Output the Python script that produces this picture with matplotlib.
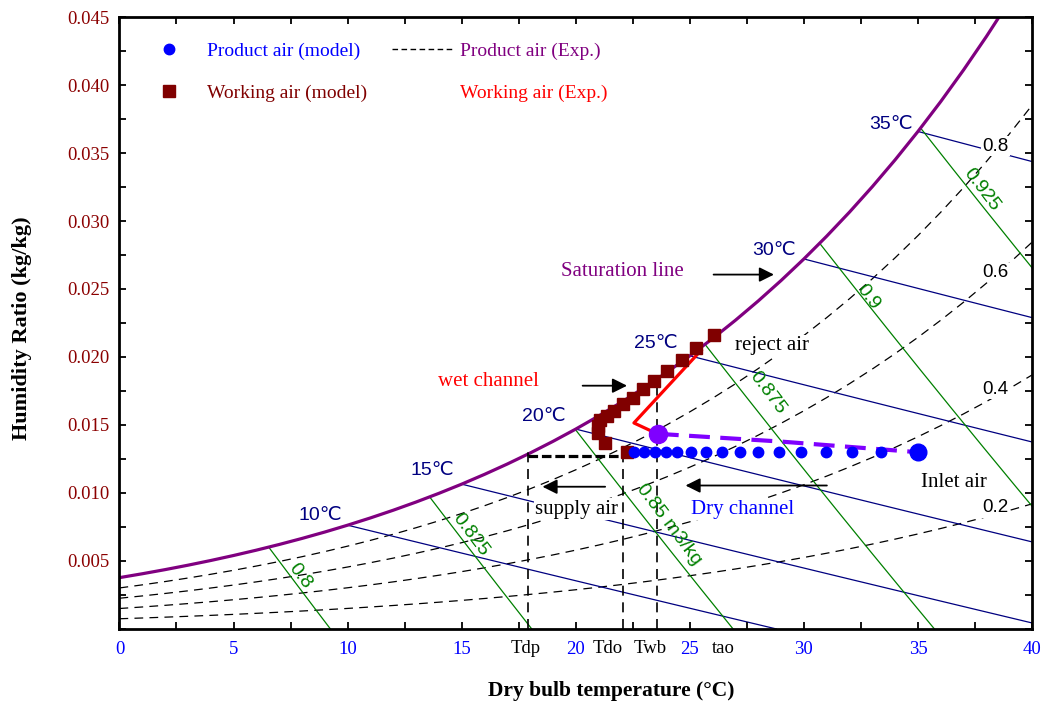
import numpy as np
import matplotlib
matplotlib.use('Agg')
import matplotlib.pyplot as plt
from matplotlib.lines import Line2D
from matplotlib.ticker import MultipleLocator

plt.rcParams['font.family'] = ['Liberation Serif', 'DejaVu Serif']
SANS = ['Liberation Sans', 'DejaVu Sans']

P_ATM = 101.325  # kPa

# saturation pressure of water (kPa) at 0..40 degC, from steam tables
sat_temp = [0, 1, 2, 3, 4, 5, 6, 7, 8, 9, 10, 11, 12, 13, 14, 15, 16, 17, 18, 19, 20,
            21, 22, 23, 24, 25, 26, 27, 28, 29, 30, 31, 32, 33, 34, 35, 36, 37, 38, 39, 40]
sat_press = [0.6113, 0.6571, 0.7060, 0.7581, 0.8136, 0.8726, 0.9354, 1.0021, 1.0730, 1.1482,
             1.2282, 1.3130, 1.4028, 1.4981, 1.5990, 1.7057, 1.8188, 1.9383, 2.0647, 2.1982,
             2.3392, 2.4881, 2.6452, 2.8109, 2.9856, 3.1697, 3.3637, 3.5679, 3.7828, 4.0089,
             4.2467, 4.4966, 4.7592, 5.0351, 5.3247, 5.6286, 5.9475, 6.2818, 6.6324, 6.9997,
             7.3844]

rh_levels = [0.2, 0.4, 0.6, 0.8]
rh_label_pos = [(38.4, 0.00890), (38.4, 0.01763), (38.4, 0.02620), (38.4, 0.03551)]

wb_temps = [10, 15, 20, 25, 30, 35]
wb_label_pos = [(8.8, 0.00838), (13.7, 0.01164), (18.6, 0.01566),
                (23.5, 0.02096), (28.7, 0.02780), (33.8, 0.03713)]

vol_levels = [0.8, 0.825, 0.85, 0.875, 0.9, 0.925]
vol_labels = ['0.8', '0.825', '0.85 m3/kg', '0.875', '0.9', '0.925']
vol_label_pos = [(7.9, 0.0039), (15.4, 0.0069), (24.1, 0.0077),
                 (28.4, 0.0174), (32.8, 0.0244), (37.8, 0.0323)]

# Product air (model)
prod_model_t = [22.55, 22.98, 23.47, 23.95, 24.45, 25.04, 25.70, 26.42, 27.19,
                27.99, 28.90, 29.89, 30.96, 32.13, 33.40]
prod_model_w = [0.0130] * 15
inlet_t = [35.0]
inlet_w = [0.0130]

# Product air (Exp.)
prod_exp_t = [23.6, 29.0, 35.0]
prod_exp_w = [0.01435, 0.01378, 0.0130]

# Working air (model)
work_model_t = [22.23, 21.28, 20.98, 20.97, 21.06, 21.36, 21.69, 22.08, 22.49,
                22.93, 23.44, 24.01, 24.64, 25.29, 26.05]
work_model_w = [0.01304, 0.01370, 0.01439, 0.01493, 0.01537, 0.01566, 0.01603, 0.01652,
                0.01701, 0.01763, 0.01826, 0.01899, 0.01978, 0.02068, 0.02164]

# Working air (Exp.)
work_exp_t = [23.45, 22.55, 25.5]
work_exp_w = [0.01445, 0.01515, 0.0205]

# supply air construction (dew point / outlet / wet bulb)
t_dp, t_do, t_wb = 17.9, 22.08, 23.54
w_supply = 0.01275
xtick_extra = ['Tdp', 'Tdo', 'Twb', 'tao']
xtick_extra_t = [17.8, 21.38, 23.28, 26.49]


def hum_ratio(pv):
    return 0.622 * pv / (P_ATM - pv)


t_sat = np.array(sat_temp, dtype=float)
p_sat = np.array(sat_press)
w_sat = hum_ratio(p_sat)

fig = plt.figure(figsize=(10.47, 7.06), dpi=100)
ax = fig.add_axes([0.1141, 0.1091, 0.8716, 0.8668])
ax.set_xlim(0, 40)
ax.set_ylim(0, 0.045)

# relative humidity curves
for rh, (lx, ly) in zip(rh_levels, rh_label_pos):
    ax.plot(t_sat, hum_ratio(rh * p_sat), color='black', lw=0.9,
            ls=(0, (7, 5)), zorder=1)
    ax.text(lx, ly, f'{rh:.1f}', family=SANS, fontsize=13.5, ha='center', va='center',
            bbox=dict(facecolor='white', edgecolor='none', pad=1), zorder=3)

# wet bulb lines
for twb, (lx, ly) in zip(wb_temps, wb_label_pos):
    ws = w_sat[sat_temp.index(twb)]
    t_zero = twb + (2501 - 2.326 * twb) * ws / 1.006
    t = np.linspace(twb, min(40.0, t_zero), 40)
    w = ((2501 - 2.326 * twb) * ws - 1.006 * (t - twb)) / (2501 + 1.86 * t - 4.186 * twb)
    ax.plot(t, w, color='#000080', lw=0.9, zorder=1)
    ax.text(lx, ly, f'{twb}\u2103', family=SANS, fontsize=14, color='#000080',
            ha='center', va='center', zorder=3)

# specific volume lines
w_grid = np.linspace(0, 0.045, 901)
for v, lab, (lx, ly) in zip(vol_levels, vol_labels, vol_label_pos):
    t = v * P_ATM / (0.287042 * (1 + 1.607858 * w_grid)) - 273.15
    keep = w_grid <= np.interp(t, t_sat, w_sat)
    ax.plot(t[keep], w_grid[keep], color='#008000', lw=0.9, zorder=1)
    ax.text(lx, ly, lab, family=SANS, fontsize=14, color='#008000', rotation=-53,
            ha='center', va='center', rotation_mode='anchor', zorder=3)

# saturation line
ax.plot(t_sat, w_sat, color='#800080', lw=2.3, zorder=2)

# supply air construction lines
ax.plot([t_dp, t_do], [w_supply, w_supply], color='black', lw=2.3, ls=(0, (3, 1.2)), zorder=2)
ax.plot([t_dp, t_dp], [0, w_supply + 0.0003], color='black', lw=1.2, ls=(0, (6, 4)), zorder=2)
ax.plot([t_do, t_do], [0, w_supply + 0.0002], color='black', lw=1.2, ls=(0, (6, 4)), zorder=2)
ax.plot([t_wb, t_wb], [0, w_sat[23] + (w_sat[24] - w_sat[23]) * 0.54], color='black',
        lw=1.2, ls=(0, (6, 4)), zorder=2)

# data
ax.plot(prod_exp_t, prod_exp_w, color='#7F00FF', lw=3, ls=(0, (5, 2.5)), zorder=4)
ax.plot(prod_exp_t[:1], prod_exp_w[:1], 'o', color='#7F00FF', ms=13, zorder=5)
ax.plot(work_exp_t, work_exp_w, color='#FF0000', lw=2.3, zorder=4)
ax.plot(work_model_t, work_model_w, 's', color='#800000', ms=8.5, zorder=5)
ax.plot(prod_model_t, prod_model_w, 'o', color='#0000FF', ms=7.5, zorder=5)
ax.plot(inlet_t, inlet_w, 'o', color='#0000FF', ms=12, zorder=5)

# annotations
white = dict(facecolor='white', edgecolor='none', pad=1)
ax.text(22.05, 0.02627, 'Saturation line', color='#800080', fontsize=15,
        ha='center', va='center')
ax.text(28.6, 0.02083, 'reject air', color='black', fontsize=15,
        ha='center', va='center', bbox=white)
ax.text(16.16, 0.01818, 'wet channel', color='#FF0000', fontsize=15,
        ha='center', va='center')
ax.text(27.3, 0.0088, 'Dry channel', color='#0000FF', fontsize=15,
        ha='center', va='center', bbox=white)
ax.text(20.04, 0.0088, 'supply air', color='black', fontsize=15,
        ha='center', va='center', bbox=white)
ax.text(36.57, 0.01076, 'Inlet air', color='black', fontsize=15,
        ha='center', va='center')

arrow = dict(arrowstyle='-|>', color='black', lw=1.3, mutation_scale=22)
ax.annotate('', xy=(28.81, 0.02606), xytext=(25.92, 0.02606), arrowprops=arrow)
ax.annotate('', xy=(22.37, 0.01789), xytext=(20.18, 0.01789), arrowprops=arrow)
ax.annotate('', xy=(24.69, 0.01055), xytext=(31.13, 0.01055), arrowprops=arrow)
ax.annotate('', xy=(18.42, 0.01046), xytext=(21.41, 0.01046), arrowprops=arrow)

# legend
handles = [Line2D([], [], ls='none', marker='o', color='#0000FF', ms=7.5),
           Line2D([], [], ls='none', marker='s', color='#800000', ms=8.5),
           Line2D([], [], color='black', lw=1, ls=(0, (4, 2.5))),
           Line2D([], [], color='none')]
labels = ['Product air (model)', 'Working air (model)', 'Product air (Exp.)', 'Working air (Exp.)']
leg = ax.legend(handles, labels, ncol=2, frameon=False, loc='upper left',
                bbox_to_anchor=(0.021, 0.959), fontsize=14, handlelength=3.15,
                handletextpad=0.35, columnspacing=1.3, labelspacing=1.25,
                borderpad=0, borderaxespad=0)
for txt, c in zip(leg.get_texts(), ['#0000FF', '#800000', '#800080', '#FF0000']):
    txt.set_color(c)

# axes styling
ax.xaxis.set_major_locator(MultipleLocator(5))
ax.xaxis.set_minor_locator(MultipleLocator(2.5))
ax.set_yticks([0.005, 0.010, 0.015, 0.020, 0.025, 0.030, 0.035, 0.040, 0.045])
ax.yaxis.set_minor_locator(MultipleLocator(0.0025))
ax.yaxis.set_major_formatter(plt.FormatStrFormatter('%.3f'))
ax.tick_params(which='both', direction='in', top=True, right=True, length=5, width=1.3)
ax.tick_params(axis='x', labelsize=13.5, labelcolor='#0000FF', pad=9)
ax.tick_params(axis='y', labelsize=13.5, labelcolor='#8B0000', pad=7)
for sp in ax.spines.values():
    sp.set_linewidth(2)

for lab, t in zip(xtick_extra, xtick_extra_t):
    ax.text(t, -0.032, lab, transform=ax.get_xaxis_transform(), fontsize=13.5,
            ha='center', va='center')

ax.text(0.5386, -0.101, 'Dry bulb temperature (\u00b0C)', transform=ax.transAxes,
        fontsize=15.5, fontweight='bold', ha='center', va='center')
ax.text(-0.107, 0.492, 'Humidity Ratio (kg/kg)', transform=ax.transAxes,
        fontsize=16, fontweight='bold', ha='center', va='center', rotation=90)

fig.savefig('out.png', dpi=100)
